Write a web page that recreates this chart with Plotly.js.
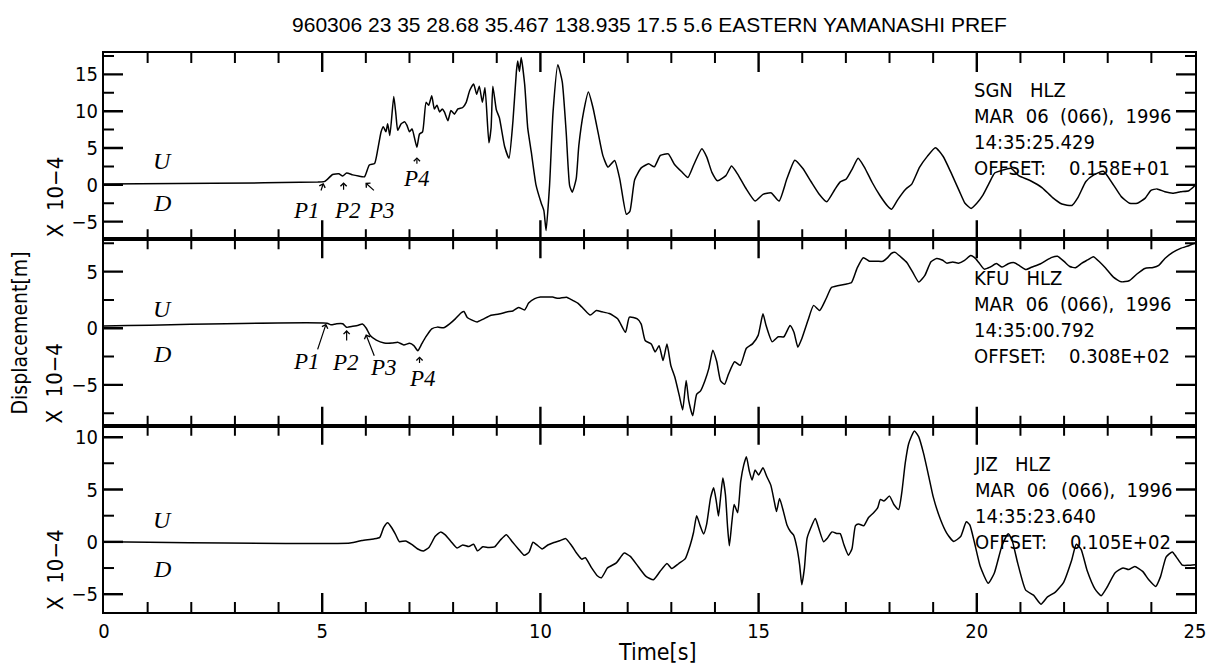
<!DOCTYPE html>
<html>
<head>
<meta charset="utf-8">
<script src="https://cdn.plot.ly/plotly-3.0.1.min.js"></script>
<style>
html,body{margin:0;padding:0;background:#fff;}
#chart{width:1223px;height:669px;}
</style>
</head>
<body>
<div id="chart"></div>
<script>
// ---------------- data ----------------
var titleText = "960306 23 35 28.68 35.467 138.935 17.5 5.6 EASTERN YAMANASHI PREF";

var tSGN = [0, 2.5, 4.9, 5.06, 5.24, 5.38, 5.47, 5.56, 5.7, 5.83,
  5.97, 6.08, 6.2, 6.27, 6.35, 6.4, 6.46, 6.5, 6.55, 6.64,
  6.69, 6.73, 6.81, 6.89, 6.94, 7.0, 7.06, 7.11, 7.17, 7.23,
  7.3, 7.38, 7.44, 7.51, 7.57, 7.63, 7.69, 7.75, 7.8, 7.88,
  7.95, 8.03, 8.11, 8.22, 8.3, 8.38, 8.47, 8.54, 8.6, 8.67,
  8.73, 8.82, 8.87, 8.91, 8.99, 9.06, 9.18, 9.28, 9.37, 9.45,
  9.48, 9.52, 9.56, 9.64, 9.71, 9.79, 9.9, 10.02, 10.08, 10.13,
  10.21, 10.29, 10.4, 10.5, 10.59, 10.67, 10.73, 10.82, 10.88, 10.99,
  11.1, 11.2, 11.32, 11.43, 11.55, 11.7, 11.82, 11.97, 12.05, 12.16,
  12.31, 12.48, 12.61, 12.75, 12.93, 13.07, 13.25, 13.38, 13.52, 13.7,
  13.81, 13.93, 14.06, 14.25, 14.38, 14.52, 14.7, 14.92, 15.1, 15.29,
  15.47, 15.65, 15.83, 16.01, 16.2, 16.38, 16.56, 16.74, 16.87, 17.01,
  17.15, 17.28, 17.42, 17.6, 17.78, 17.96, 18.05, 18.19, 18.37, 18.51,
  18.69, 18.87, 19.05, 19.23, 19.41, 19.6, 19.73, 19.87, 20.0, 20.14,
  20.28, 20.41, 20.59, 20.78, 20.96, 21.23, 21.5, 21.73, 21.95, 22.18,
  22.32, 22.5, 22.68, 22.9, 23.13, 23.31, 23.5, 23.68, 23.86, 23.99,
  24.13, 24.31, 24.49, 24.67, 24.86, 25.0];
var vSGN = [0.1, 0.2, 0.38, 0.47, 1.4, 1.5, 1.2, 1.6, 1.35, 1.2,
  1.1, 2.7, 2.9, 4.7, 7.2, 7.9, 7.2, 8.3, 6.7, 12.0,
  9.5, 7.4, 8.3, 8.55, 8.1, 7.2, 7.6, 6.5, 5.1, 6.9,
  7.2, 11.2, 10.8, 12.1, 10.3, 10.8, 9.9, 10.3, 9.9, 8.7,
  10.1, 9.6, 10.3, 10.5, 11.2, 12.8, 13.7, 12.3, 13.4, 11.2,
  13.2, 5.7, 7.75, 13.4, 10.2, 9.1, 5.2, 3.6, 8.6, 15.4,
  16.8, 15.4, 17.3, 13.6, 7.7, 4.5, -0.05, -2.5, -3.5, -6.2,
  -0.07, 9.9, 16.3, 14.0, 7.2, -0.1, -1.0, 0.8, 5.3, 9.9,
  12.6, 10.6, 7.15, 4.0, 2.4, 3.3, 0.75, -4.0, -3.6, 0.7,
  2.3, 2.85, 2.45, 4.0, 4.2, 2.8, 1.7, 1.0, 2.8, 4.9,
  3.8, 1.7, 0.55, 1.25, 2.55, 1.45, -0.4, -2.2, -1.3, -1.1,
  -2.2, 0.85, 3.35, 2.25, 0.45, -1.2, -2.3, -0.7, 0.4, 0.8,
  2.2, 3.6, 2.45, 0.35, -1.45, -2.9, -3.3, -2.0, -0.6, 0.1,
  2.4, 3.9, 5.05, 3.85, 1.65, -0.85, -2.5, -3.2, -2.5, -1.4,
  0.2, 1.6, 2.0, 2.25, 1.25, 0.55, -0.4, -1.7, -2.6, -2.8,
  -1.7, 0.45, 1.35, 1.85, 0.0, -1.6, -2.5, -2.5, -1.8, -0.75,
  -0.55, -0.95, -1.15, -0.95, -0.8, -0.1];

var tKFU = [0, 5.11, 5.2, 5.33, 5.47, 5.56, 5.7, 5.83, 5.92, 6.01,
  6.1, 6.24, 6.42, 6.6, 6.73, 6.87, 7.0, 7.1, 7.19, 7.28,
  7.37, 7.51, 7.64, 7.78, 7.92, 8.05, 8.19, 8.25, 8.32, 8.46,
  8.55, 8.69, 8.87, 9.05, 9.23, 9.37, 9.5, 9.64, 9.73, 9.87,
  10.0, 10.14, 10.28, 10.41, 10.6, 10.73, 10.87, 11.0, 11.14, 11.28,
  11.41, 11.58, 11.77, 11.95, 12.04, 12.22, 12.31, 12.4, 12.54, 12.63,
  12.72, 12.81, 12.9, 12.99, 13.08, 13.18, 13.26, 13.34, 13.4, 13.49,
  13.58, 13.67, 13.77, 13.86, 13.95, 14.04, 14.13, 14.22, 14.31, 14.45,
  14.58, 14.72, 14.86, 14.99, 15.1, 15.17, 15.31, 15.45, 15.58, 15.72,
  15.81, 15.9, 15.99, 16.13, 16.26, 16.4, 16.54, 16.67, 16.81, 16.99,
  17.13, 17.26, 17.4, 17.54, 17.72, 17.85, 17.95, 18.04, 18.13, 18.26,
  18.4, 18.54, 18.67, 18.81, 18.95, 19.08, 19.22, 19.31, 19.45, 19.58,
  19.72, 19.86, 19.95, 20.04, 20.17, 20.31, 20.45, 20.58, 20.72, 20.86,
  20.99, 21.13, 21.25, 21.45, 21.58, 21.72, 21.85, 22.0, 22.13, 22.26,
  22.4, 22.54, 22.67, 22.81, 22.95, 23.13, 23.31, 23.49, 23.67, 23.85,
  24.04, 24.17, 24.31, 24.49, 24.67, 24.86, 25.0];
var vKFU = [0.2, 0.45, 0.3, 0.4, 0.4, 0.08, 0.17, 0.27, 0.37, 0.0,
  -0.64, -1.05, -1.3, -1.31, -1.23, -1.47, -1.33, -1.53, -1.98, -1.39,
  -0.79, -0.05, 0.1, 0.04, 0.39, 0.83, 1.38, 1.48, 0.97, 0.67,
  0.56, 0.81, 1.15, 1.25, 1.44, 1.53, 1.83, 1.62, 2.22, 2.61,
  2.76, 2.75, 2.75, 2.64, 2.74, 2.48, 2.18, 1.67, 1.16, 1.56,
  1.45, 1.3, 0.84, -0.36, 0.98, 0.83, 0.37, -1.08, -1.39, -2.09,
  -1.54, -2.85, -1.4, -3.3, -4.31, -5.91, -7.21, -4.62, -6.42, -7.72,
  -5.83, -5.53, -4.63, -3.54, -1.94, -2.94, -4.65, -4.95, -4.05, -2.96,
  -3.27, -1.77, -1.38, -0.63, 1.27, 0.26, -1.19, -0.75, -0.75, 0.24,
  -0.36, -1.67, -0.92, 0.68, 2.02, 1.57, 2.56, 3.6, 3.75, 3.89,
  4.04, 5.33, 6.23, 5.92, 5.91, 5.91, 6.21, 6.6, 6.7, 6.29,
  5.79, 4.88, 4.08, 4.67, 5.87, 6.16, 6.0, 5.75, 5.85, 5.74,
  5.99, 6.43, 6.23, 5.83, 5.22, 5.41, 5.71, 5.4, 5.7, 5.79,
  5.49, 5.18, 5.38, 5.67, 5.97, 6.26, 6.36, 5.9, 5.45, 5.34,
  5.73, 6.03, 6.32, 5.87, 5.31, 4.51, 4.1, 4.19, 4.79, 5.28,
  5.37, 5.56, 6.16, 6.7, 7.05, 7.29, 7.5];

var tJIZ = [0, 5.64, 5.91, 6.18, 6.32, 6.41, 6.5, 6.59, 6.68, 6.77,
  6.91, 7.05, 7.18, 7.32, 7.45, 7.59, 7.71, 7.82, 7.95, 8.09,
  8.22, 8.36, 8.47, 8.56, 8.68, 8.81, 8.95, 9.08, 9.22, 9.36,
  9.49, 9.63, 9.74, 9.83, 9.92, 10.04, 10.17, 10.31, 10.44, 10.58,
  10.72, 10.85, 10.95, 11.03, 11.17, 11.31, 11.4, 11.54, 11.74, 11.92,
  12.06, 12.24, 12.42, 12.59, 12.74, 12.9, 13.01, 13.17, 13.32, 13.43,
  13.51, 13.58, 13.66, 13.74, 13.81, 13.9, 13.97, 14.03, 14.08, 14.12,
  14.18, 14.24, 14.29, 14.33, 14.39, 14.44, 14.52, 14.59, 14.66, 14.72,
  14.79, 14.85, 14.92, 15.0, 15.1, 15.19, 15.28, 15.36, 15.41, 15.48,
  15.57, 15.65, 15.73, 15.8, 15.88, 15.94, 15.99, 16.05, 16.11, 16.19,
  16.3, 16.38, 16.49, 16.57, 16.68, 16.8, 16.87, 16.96, 17.06, 17.14,
  17.22, 17.29, 17.41, 17.52, 17.64, 17.73, 17.79, 17.87, 18.0, 18.1,
  18.21, 18.28, 18.36, 18.44, 18.57, 18.67, 18.78, 18.9, 19.0, 19.17,
  19.31, 19.47, 19.63, 19.76, 19.84, 19.95, 20.08, 20.26, 20.4, 20.58,
  20.72, 20.81, 20.94, 21.12, 21.3, 21.47, 21.62, 21.8, 21.99, 22.17,
  22.28, 22.39, 22.53, 22.71, 22.85, 22.98, 23.17, 23.35, 23.48, 23.62,
  23.8, 23.94, 24.1, 24.21, 24.34, 24.48, 24.57, 24.71, 24.84, 25.0];
var vJIZ = [0, -0.11, 0.13, 0.28, 0.43, 1.38, 1.82, 1.37, 0.71, 0.01,
  0.09, -0.24, -0.66, -0.88, -0.51, 0.53, 0.93, 0.67, 0.04, -0.59,
  -0.29, -0.45, -0.23, -0.86, -0.47, -0.53, -0.48, 0.16, 0.68, -0.02,
  -0.65, -1.29, -0.98, -0.04, -0.29, -0.67, -0.3, -0.06, 0.1, 0.31,
  -0.39, -1.19, -1.66, -1.51, -2.46, -3.26, -3.42, -2.48, -2.01, -1.07,
  -1.39, -2.35, -3.3, -3.62, -2.84, -2.06, -2.54, -2.07, -1.6, -0.34,
  0.92, 2.5, 1.55, 0.75, 1.7, 4.22, 5.17, 3.9, 2.47, 3.9,
  6.1, 4.52, 1.36, -0.38, 1.99, 3.56, 2.78, 5.77, 7.35, 8.13,
  6.71, 5.91, 6.86, 6.39, 7.08, 6.22, 5.42, 3.85, 2.9, 4.15,
  2.89, 1.62, 0.99, 0.66, -0.6, -2.19, -4.09, -2.5, 0.34, 1.28,
  2.23, 1.27, 0.01, 0.32, 0.95, 0.79, 0.78, -0.33, -1.28, -0.65,
  1.55, 1.71, 1.54, 2.33, 2.8, 3.27, 4.06, 3.9, 4.37, 3.57,
  3.09, 4.67, 7.52, 9.4, 10.6, 10.03, 8.45, 6.23, 4.32, 2.11,
  0.84, 0.04, 0.51, 1.92, 1.61, -0.13, -2.36, -3.95, -3.0, -0.32,
  0.78, 0.13, -2.08, -4.61, -5.09, -5.95, -5.26, -4.8, -3.86, -1.81,
  -0.23, -0.71, -2.77, -4.52, -5.15, -4.37, -2.96, -2.49, -2.65, -2.35,
  -2.82, -3.62, -4.26, -3.32, -1.43, -0.96, -1.43, -2.23, -2.24, -2.18];

var xTickVals = [0, 5, 10, 15, 20, 25];
var xTickText = ["0", "5", "10", "15", "20", "25"];
var xMinorVals = [1, 2, 3, 4, 6, 7, 8, 9, 11, 12, 13, 14, 16, 17, 18, 19, 21, 22, 23, 24];
var yTickValsTop = [-5, 0, 5, 10, 15];
var yTickTextTop = ["\u22125", "0", "5", "10", "15"];
var yTickValsMid = [-5, 0, 5];
var yTickTextMid = ["\u22125", "0", "5"];
var yTickValsBot = [-5, 0, 5, 10];
var yTickTextBot = ["\u22125", "0", "5", "10"];
var yMinorVals = [-7.5, -2.5, 2.5, 7.5, 12.5, 17.5];

var infoSGN = ["SGN   HLZ", "MAR  06  (066),  1996", "14:35:25.429", "OFFSET:    0.158E+01"];
var infoKFU = ["KFU   HLZ", "MAR  06  (066),  1996", "14:35:00.792", "OFFSET:    0.308E+02"];
var infoJIZ = ["JIZ   HLZ", "MAR  06  (066),  1996", "14:35:23.640", "OFFSET:    0.105E+02"];
var scaleLabel = "X  10\u22124";
var yTitle = "Displacement[m]";
var xTitle = "Time[s]";
var phaseLabels = ["P1", "P2", "P3", "P4"];

// ---------------- styling ----------------
var NARROW = '"Liberation Sans Narrow", "Arial Narrow", "DejaVu Sans Condensed", "Liberation Sans", sans-serif';
var SANS = '"Liberation Sans", Arial, sans-serif';
var SERIF = '"Liberation Serif", "Times New Roman", serif';
var INK = '#000';

var W = 1223, H = 669;
var M = {l: 104, r: 28, t: 53, b: 57};
var PLOT_W = W - M.l - M.r;
var PANEL_H = (H - M.t - M.b) / 3;

var RANGES = {
  bot: [-6.7, 11.1],
  mid: [-8.6, 7.85],
  top: [-7.4, 17.9]
};
var XR = [0, 25];

function trace(t, v, xa, ya) {
  return {x: t, y: v, xaxis: xa, yaxis: ya, type: 'scatter', mode: 'lines',
    line: {color: INK, width: 1.5, shape: 'spline', smoothing: 0.5},
    hoverinfo: 'skip', showlegend: false};
}

// tick marks (inside, on all four sides) built from the tick arrays,
// lengths converted from pixels to axis units with the panel scale
function tickTrace(xa, ya, yrng, xvals, yvals, lenPx, width) {
  var dx = lenPx * (XR[1] - XR[0]) / PLOT_W;
  var dy = lenPx * (yrng[1] - yrng[0]) / PANEL_H;
  var xs = [], ys = [];
  xvals.forEach(function (v) {
    if (v <= XR[0] || v >= XR[1]) return;
    xs.push(v, v, null, v, v, null);
    ys.push(yrng[0], yrng[0] + dy, null, yrng[1], yrng[1] - dy, null);
  });
  yvals.forEach(function (v) {
    if (v <= yrng[0] || v >= yrng[1]) return;
    xs.push(XR[0], XR[0] + dx, null, XR[1], XR[1] - dx, null);
    ys.push(v, v, null, v, v, null);
  });
  return {x: xs, y: ys, xaxis: xa, yaxis: ya, type: 'scatter', mode: 'lines',
    connectgaps: false, cliponaxis: false,
    line: {color: INK, width: width, simplify: false}, hoverinfo: 'skip', showlegend: false};
}

function xAxis(anchor, labels) {
  return {anchor: anchor, domain: [0, 1], range: XR, autorange: false,
    tickmode: 'array', tickvals: xTickVals, ticktext: xTickText,
    showticklabels: labels, ticks: '',
    showline: true, linecolor: INK, linewidth: 2, mirror: true,
    showgrid: false, zeroline: false,
    tickfont: {family: NARROW, size: 20, color: INK}};
}
function yAxis(anchor, dom, rng, tv, tt) {
  return {anchor: anchor, domain: dom, range: rng, autorange: false,
    tickmode: 'array', tickvals: tv, ticktext: tt, ticks: '',
    showline: true, linecolor: INK, linewidth: 2, mirror: true,
    showgrid: false, zeroline: false,
    tickfont: {family: NARROW, size: 20, color: INK}};
}

var data = [
  tickTrace('x', 'y', RANGES.bot, xTickVals, yTickValsBot, 19, 2.4),
  tickTrace('x2', 'y2', RANGES.mid, xTickVals, yTickValsMid, 19, 2.4),
  tickTrace('x3', 'y3', RANGES.top, xTickVals, yTickValsTop, 19, 2.4),
  tickTrace('x', 'y', RANGES.bot, xMinorVals, yMinorVals, 10, 2.0),
  tickTrace('x2', 'y2', RANGES.mid, xMinorVals, yMinorVals, 10, 2.0),
  tickTrace('x3', 'y3', RANGES.top, xMinorVals, yMinorVals, 10, 2.0),
  trace(tJIZ, vJIZ, 'x', 'y'),
  trace(tKFU, vKFU, 'x2', 'y2'),
  trace(tSGN, vSGN, 'x3', 'y3')
];

var ann = [];
function info(lines, xr, yr, yv) {
  ann.push({text: lines.join('<br>'), xref: xr, yref: yr, x: 19.9, y: yv,
    xanchor: 'left', yanchor: 'middle', align: 'left', showarrow: false,
    font: {family: NARROW, size: 20, color: INK}});
}
info(infoSGN, 'x3', 'y3', 7.6);
info(infoKFU, 'x2', 'y2', 1.0);
info(infoJIZ, 'x', 'y', 3.7);

function ud(xr, yr, yu, yd) {
  ann.push({text: 'U', xref: xr, yref: yr, x: 1.33, y: yu, showarrow: false,
    font: {family: SERIF, size: 24, style: 'italic', color: INK}});
  ann.push({text: 'D', xref: xr, yref: yr, x: 1.33, y: yd, showarrow: false,
    font: {family: SERIF, size: 24, style: 'italic', color: INK}});
}
ud('x3', 'y3', 3.2, -2.5);
ud('x2', 'y2', 1.7, -2.3);
ud('x', 'y', 2.1, -2.6);

function plabel(txt, xr, yr, x, y) {
  ann.push({text: txt, xref: xr, yref: yr, x: x, y: y, showarrow: false,
    font: {family: SERIF, size: 23, style: 'italic', color: INK}});
}
function parrow(xr, yr, x, y, ax, ay) {
  ann.push({text: '', xref: xr, yref: yr, x: x, y: y, ax: ax, ay: ay,
    showarrow: true, arrowhead: 4, arrowsize: 1, arrowwidth: 1.2, arrowcolor: INK});
}
// top panel (SGN)
plabel(phaseLabels[0], 'x3', 'y3', 4.64, -3.5);
plabel(phaseLabels[1], 'x3', 'y3', 5.58, -3.5);
plabel(phaseLabels[2], 'x3', 'y3', 6.35, -3.5);
plabel(phaseLabels[3], 'x3', 'y3', 7.17, 0.8);
parrow('x3', 'y3', 5.03, 0.25, -3, 9);
parrow('x3', 'y3', 5.49, 0.35, 0, 9);
parrow('x3', 'y3', 5.99, 0.29, 10, 9);
parrow('x3', 'y3', 7.17, 3.75, 0, 8);
// middle panel (KFU)
plabel(phaseLabels[0], 'x2', 'y2', 4.65, -2.97);
plabel(phaseLabels[1], 'x2', 'y2', 5.54, -3.0);
plabel(phaseLabels[2], 'x2', 'y2', 6.4, -3.5);
plabel(phaseLabels[3], 'x2', 'y2', 7.29, -4.46);
parrow('x2', 'y2', 5.09, 0.39, -9, 27);
parrow('x2', 'y2', 5.56, -0.16, 0, 12);
parrow('x2', 'y2', 6.0, -0.53, 9, 23);
parrow('x2', 'y2', 7.23, -2.49, 0, 8);

// scale labels
[0, 1/3, 2/3].forEach(function (yb) {
  ann.push({text: scaleLabel, xref: 'paper', yref: 'paper', x: -0.045, y: yb,
    xanchor: 'center', yanchor: 'bottom', textangle: -90, showarrow: false,
    font: {family: NARROW, size: 22, color: INK}});
});
ann.push({text: yTitle, xref: 'paper', yref: 'paper', x: -0.077, y: 0.5,
  xanchor: 'center', yanchor: 'middle', textangle: -90, showarrow: false,
  font: {family: NARROW, size: 21, color: INK}});
ann.push({text: xTitle, xref: 'paper', yref: 'paper', x: 0.507, y: -0.072,
  xanchor: 'center', yanchor: 'middle', showarrow: false,
  font: {family: NARROW, size: 23, color: INK}});

var layout = {
  width: W, height: H,
  margin: {l: M.l, r: M.r, t: M.t, b: M.b, pad: 0},
  paper_bgcolor: '#fff', plot_bgcolor: '#fff',
  title: {text: titleText, xref: 'paper', x: 0.5, xanchor: 'center',
    yref: 'container', y: 0.963, yanchor: 'middle',
    font: {family: SANS, size: 21, color: INK}},
  showlegend: false,
  xaxis: xAxis('y', true),
  xaxis2: xAxis('y2', false),
  xaxis3: xAxis('y3', false),
  yaxis: yAxis('x', [0, 1/3], RANGES.bot, yTickValsBot, yTickTextBot),
  yaxis2: yAxis('x2', [1/3, 2/3], RANGES.mid, yTickValsMid, yTickTextMid),
  yaxis3: yAxis('x3', [2/3, 1], RANGES.top, yTickValsTop, yTickTextTop),
  annotations: ann
};

Plotly.newPlot('chart', data, layout, {staticPlot: true, displayModeBar: false});
</script>
</body>
</html>
